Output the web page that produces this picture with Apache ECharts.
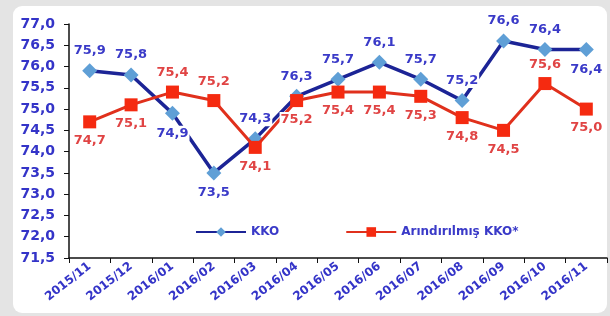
<!DOCTYPE html>
<html>
<head>
<meta charset="utf-8">
<script src="https://cdn.jsdelivr.net/npm/echarts@6/dist/echarts.min.js"></script>
<style>
  html, body { margin: 0; padding: 0; background: #e4e4e4; }
  #card { position: absolute; left: 13px; top: 6px; width: 594px; height: 307px; background: #fff; border-radius: 9px; }
  #main { position: absolute; left: 0; top: 0; width: 610px; height: 316px; }
</style>
</head>
<body>
<div id="card"></div>
<div id="main"></div>
<script>
// kategoriler
const months = ['2015/11', '2015/12', '2016/01', '2016/02', '2016/03', '2016/04', '2016/05',
  '2016/06', '2016/07', '2016/08', '2016/09', '2016/10', '2016/11'];
// KKO
const kko = [75.9, 75.8, 74.9, 73.5, 74.3, 75.3, 75.7, 76.1, 75.7, 75.2, 76.6, 76.4, 76.4];
// etiket metinleri (grafikte 2016/04 "76,3" yazıyor)
const kkoLabels = ['75,9', '75,8', '74,9', '73,5', '74,3', '76,3', '75,7', '76,1', '75,7', '75,2', '76,6', '76,4', '76,4'];
const kkoLabelPos = ['top', 'top', 'bottom', 'bottom', 'top', 'top', 'top', 'top', 'top', 'top', 'top', 'top', 'bottom'];
// Arındırılmış KKO*
const adjKko = [74.7, 75.1, 75.4, 75.2, 74.1, 75.2, 75.4, 75.4, 75.3, 74.8, 74.5, 75.6, 75.0];
const adjLabelPos = ['bottom', 'bottom', 'top', 'top', 'bottom', 'bottom', 'bottom', 'bottom', 'bottom', 'bottom', 'bottom', 'top', 'bottom'];

const fmt = v => v.toFixed(1).replace('.', ',');
const font = 'DejaVu Sans';

const chart = echarts.init(document.getElementById('main'));

const labelBase = {
  show: true,
  fontFamily: font,
  fontWeight: 'bold',
  fontSize: 13,
  backgroundColor: '#fff',
  padding: [1, 1],
  distance: 5
};

chart.setOption({
  backgroundColor: 'transparent',
  animation: false,
  grid: { left: 69, right: 3, top: 24, bottom: 58 },
  legend: {
    top: 221,
    left: 190,
    itemGap: 66,
    itemWidth: 50,
    itemHeight: 12,
    backgroundColor: '#fff',
    textStyle: { color: '#3a3ac8', fontFamily: font, fontWeight: 'bold', fontSize: 12 },
    data: ['KKO', 'Arındırılmış KKO*']
  },
  xAxis: {
    type: 'category',
    data: months,
    boundaryGap: true,
    axisLine: { lineStyle: { color: '#111', width: 1.5 } },
    axisTick: { show: true, length: 5, lineStyle: { color: '#111' } },
    axisLabel: {
      rotate: 38,
      color: '#3434c8',
      fontFamily: font,
      fontWeight: 'bold',
      fontSize: 12,
      margin: 7,
      interval: 0
    }
  },
  yAxis: {
    type: 'value',
    min: 71.5,
    max: 77,
    interval: 0.5,
    splitLine: { show: false },
    axisLine: { show: true, lineStyle: { color: '#111', width: 1.5 } },
    axisTick: { show: true, length: 5, inside: false, lineStyle: { color: '#111' } },
    axisLabel: {
      color: '#3434c8',
      fontFamily: font,
      fontWeight: 'bold',
      fontSize: 14,
      margin: 14,
      formatter: v => fmt(v)
    }
  },
  series: [
    {
      name: 'KKO',
      type: 'line',
      data: kko.map((v, i) => ({
        value: v,
        label: { position: kkoLabelPos[i], formatter: kkoLabels[i] }
      })),
      symbol: 'diamond',
      symbolSize: 15,
      lineStyle: { color: '#1c2496', width: 3.5 },
      itemStyle: { color: '#5f9fd6' },
      label: Object.assign({}, labelBase, { color: '#3a3ac8' }),
      z: 2
    },
    {
      name: 'Arındırılmış KKO*',
      type: 'line',
      data: adjKko.map((v, i) => ({
        value: v,
        label: { position: adjLabelPos[i] }
      })),
      symbol: 'rect',
      symbolSize: 13,
      lineStyle: { color: '#e0301c', width: 3 },
      itemStyle: { color: '#f52a10' },
      label: Object.assign({}, labelBase, { color: '#e04444', formatter: p => fmt(p.value) }),
      z: 3
    }
  ]
});
</script>
</body>
</html>
